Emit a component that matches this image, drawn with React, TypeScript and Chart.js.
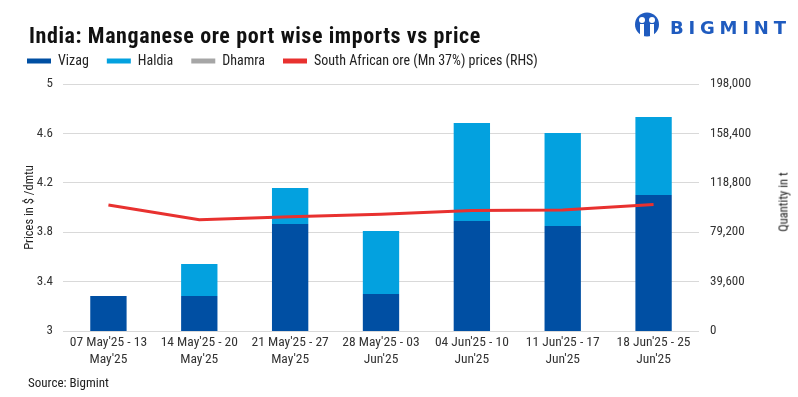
import React, { useEffect, useRef } from "react";
import { Chart, registerables } from "chart.js";

Chart.register(...registerables);

const categories: string[][] = [
  ["07 May'25 - 13", "May'25"],
  ["14 May'25 - 20", "May'25"],
  ["21 May'25 - 27", "May'25"],
  ["28 May'25 - 03", "Jun'25"],
  ["04 Jun'25 - 10", "Jun'25"],
  ["11 Jun'25 - 17", "Jun'25"],
  ["18 Jun'25 - 25", "Jun'25"],
];
const vizag = [28000, 28000, 85800, 29700, 88200, 84200, 109000];
const haldia = [0, 25700, 28800, 50500, 78500, 74500, 62500];
const dhamra = [0, 0, 0, 0, 0, 0, 0];
const saPrice = [4.02, 3.9, 3.925, 3.945, 3.975, 3.98, 4.025];

const FONT = "'Liberation Sans Narrow', 'Roboto Condensed', Roboto, sans-serif";

const legendGap = {
  id: "legendGap",
  beforeInit(chart: any) {
    const orig = chart.legend.fit;
    chart.legend.fit = function () {
      orig.call(this);
      this.height += 6;
    };
  },
};

export default function App() {
  const ref = useRef<HTMLCanvasElement>(null);
  useEffect(() => {
    document.body.style.margin = "0";
    const ctx = ref.current!;
    const chart = new Chart(ctx, {
      data: {
        labels: categories,
        datasets: [
          { type: "bar", label: "Vizag", data: vizag, backgroundColor: "#004fa3", yAxisID: "y1", stack: "s", order: 2 },
          { type: "bar", label: "Haldia", data: haldia, backgroundColor: "#03a1df", yAxisID: "y1", stack: "s", order: 2 },
          { type: "bar", label: "Dhamra", data: dhamra, backgroundColor: "#a6a6a6", yAxisID: "y1", stack: "s", order: 2 },
          {
            type: "line",
            label: "South African ore (Mn 37%) prices (RHS)",
            data: saPrice,
            borderColor: "#e8312f",
            backgroundColor: "#e8312f",
            borderWidth: 3,
            pointRadius: 0,
            tension: 0,
            yAxisID: "y",
            order: 1,
          },
        ],
      } as any,
      plugins: [legendGap],
      options: {
        animation: false,
        responsive: false,
        maintainAspectRatio: false,
        layout: { padding: { left: 9, right: 27, top: 36, bottom: 29 } },
        datasets: { bar: { barPercentage: 0.4, categoryPercentage: 1 } } as any,
        plugins: {
          tooltip: { enabled: false },
          legend: {
            position: "top",
            align: "start",
            labels: {
              boxWidth: 24,
              boxHeight: 5,
              padding: 18,
              color: "#222",
              font: { family: FONT, size: 14 },
              sort: (a: any, b: any) => a.datasetIndex - b.datasetIndex,
              generateLabels: (c: any) =>
                Chart.defaults.plugins.legend.labels.generateLabels(c).map((l: any) => ({ ...l, lineWidth: 0 })),
            },
          },
        },
        scales: {
          x: {
            grid: { display: false, drawTicks: false },
            border: { display: false },
            afterFit: (s: any) => {
              s.height = 37;
            },
            ticks: { color: "#333", padding: 3, font: { family: FONT, size: 13.5, lineHeight: 1.25 }, maxRotation: 0, autoSkip: false },
          },
          y: {
            position: "left",
            min: 3,
            max: 5,
            grid: { color: "#d9d9d9", lineWidth: 1, drawTicks: false },
            border: { display: false },
            afterFit: (s: any) => {
              s.width = 54;
            },
            ticks: {
              stepSize: 0.4,
              padding: 10,
              color: "#333",
              font: { family: FONT, size: 13 },
              callback: (v: any) => String(+(+v).toFixed(1)),
            },
            title: {
              display: true,
              text: "Prices in $ /dmtu",
              color: "#222",
              font: { family: FONT, size: 12.5, lineHeight: 1 },
              padding: { top: 15, bottom: 0 },
            },
          },
          y1: {
            position: "right",
            min: 0,
            max: 198000,
            grid: { display: false, drawTicks: false },
            border: { display: false },
            afterFit: (s: any) => {
              s.width = 72;
            },
            ticks: {
              stepSize: 39600,
              padding: 11,
              color: "#333",
              font: { family: FONT, size: 13 },
              callback: (v: any) => Number(v).toLocaleString("en-US"),
            },
          },
        },
      } as any,
    });
    return () => chart.destroy();
  }, []);

  return (
    <div style={{ position: "relative", width: 798, height: 397, background: "#fff", fontFamily: FONT }}>
      <canvas ref={ref} width={798} height={397} style={{ position: "absolute", left: 0, top: 0 }} />
      <div style={{ position: "absolute", left: 29, top: 23, fontSize: 22, fontWeight: 700, letterSpacing: 0.6, color: "#111", whiteSpace: "nowrap" }}>
        India: Manganese ore port wise imports vs price
      </div>
      <div
        style={{
          position: "absolute",
          left: 783,
          top: 202,
          transform: "translate(-50%, -50%) rotate(-90deg)",
          fontSize: 12.5,
          color: "#222",
          whiteSpace: "nowrap",
        }}
      >
        Quantity in t
      </div>
      <svg width="30" height="25" viewBox="0 0 30 25" style={{ position: "absolute", left: 632, top: 12 }}>
        <circle cx="15" cy="12.5" r="12" fill="#1f5bbf" />
        <circle cx="10" cy="8" r="3" fill="#fff" />
        <circle cx="20" cy="8" r="3" fill="#fff" />
        <rect x="8" y="12" width="4" height="12" fill="#fff" />
        <rect x="18" y="12" width="4" height="12" fill="#fff" />
        <rect x="13.5" y="4" width="3" height="20" fill="#1f5bbf" />
      </svg>
      <div style={{ position: "absolute", left: 670, top: 17, fontFamily: "'DejaVu Sans', sans-serif", fontWeight: 700, fontSize: 18, letterSpacing: 4.8, color: "#1f5bbf", whiteSpace: "nowrap" }}>
        BIGMINT
      </div>
      <div style={{ position: "absolute", left: 28, top: 375, fontSize: 13, color: "#222" }}>Source: Bigmint</div>
    </div>
  );
}
